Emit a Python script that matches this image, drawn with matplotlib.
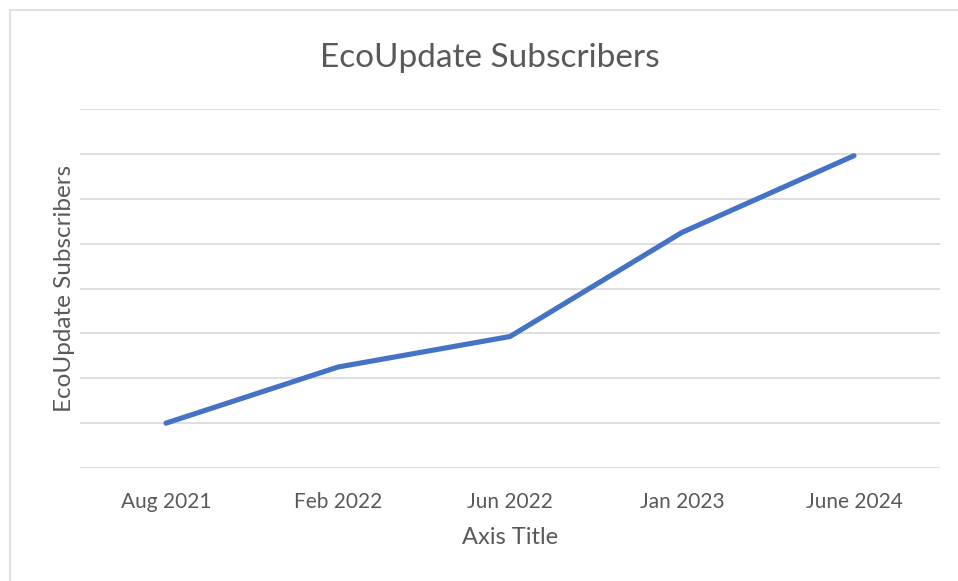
import matplotlib
matplotlib.use("Agg")
import matplotlib.pyplot as plt
from matplotlib.patches import Rectangle

categories = ["Aug 2021", "Feb 2022", "Jun 2022", "Jan 2023", "June 2024"]
subscribers = [1.0, 2.25, 2.93, 5.25, 6.96]
y_ticks = [0, 1, 2, 3, 4, 5, 6, 7, 8]

plt.rcParams['font.family'] = ['Lato', 'DejaVu Sans']
text_color = "#595959"
grid_color = "#D9D9D9"

fig = plt.figure(figsize=(9.58, 5.81), dpi=100)
fig.patch.set_facecolor("white")

# chart border
fig.patches.append(Rectangle((10/958, -0.1), 1.1, (581-10)/581 + 0.1,
                             transform=fig.transFigure, fill=False,
                             edgecolor=grid_color, linewidth=1.2))

ax = fig.add_axes([80/958, (581-468)/581, (940-80)/958, (468-109)/581])
x = list(range(len(categories)))
ax.plot(x, subscribers, color="#4472C4", linewidth=3.7, solid_capstyle="round",
        solid_joinstyle="round", zorder=3)

ax.set_xlim(-0.5, len(categories) - 0.5)
ax.set_ylim(y_ticks[0], y_ticks[-1])
ax.set_yticks(y_ticks)
ax.set_yticklabels([])
ax.set_xticks(x)
ax.set_xticklabels(categories, fontsize=15, color=text_color)
ax.tick_params(axis="both", length=0)
ax.tick_params(axis="x", pad=17)
ax.grid(axis="y", color=grid_color, linewidth=1.2)
ax.set_axisbelow(True)
for s in ax.spines.values():
    s.set_visible(False)

ax.set_xlabel("Axis Title", fontsize=17, color=text_color, labelpad=11)
ax.set_ylabel("EcoUpdate Subscribers", fontsize=17.5, color=text_color, labelpad=0)
fig.text(490/958, (581-58)/581, "EcoUpdate Subscribers", ha="center", va="center",
         fontsize=24, color=text_color)

fig.savefig("out.png", dpi=100, facecolor="white")
